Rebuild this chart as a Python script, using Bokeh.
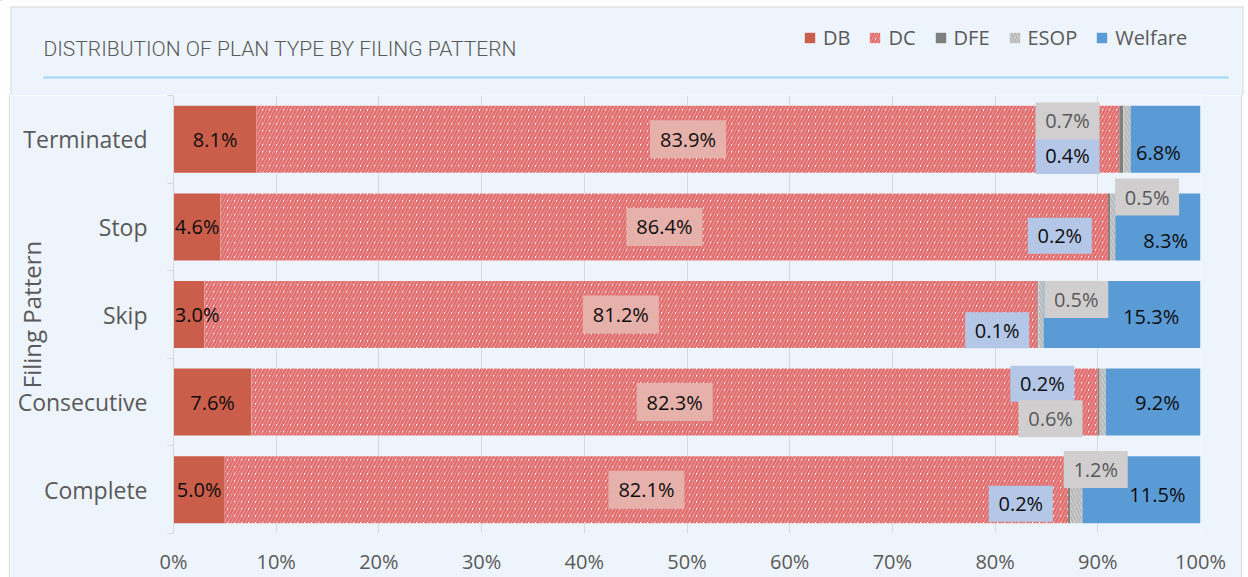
from bokeh.plotting import figure
from bokeh.layouts import column
from bokeh.models import (ColumnDataSource, FixedTicker, Legend, LegendItem, Range1d)
from bokeh.embed import file_html
from bokeh.resources import INLINE
from bokeh.core.properties import value

# ---------------- data ----------------
categories = ["Complete", "Consecutive", "Skip", "Stop", "Terminated"]
db = [5.0, 7.6, 3.0, 4.6, 8.1]
dc = [82.1, 82.3, 81.2, 86.4, 83.9]
dfe = [0.2, 0.2, 0.1, 0.2, 0.4]
esop = [1.2, 0.6, 0.5, 0.5, 0.7]
welfare = [11.5, 9.2, 15.3, 8.3, 6.8]
x_ticks = [0, 10, 20, 30, 40, 50, 60, 70, 80, 90, 100]
series_names = ["DB", "DC", "DFE", "ESOP", "Welfare"]
title_text = "DISTRIBUTION OF PLAN TYPE BY FILING PATTERN"
y_title = "Filing Pattern"

# manual placement of some data labels (x in %, vertical offset in category units)
db_lab_min_x = 2.3
dfe_lab_x = [82.5, 84.6, 80.2, 86.3, 87.05]
dfe_lab_dy = [-0.16, 0.21, -0.18, -0.10, -0.19]
esop_lab_x = [89.8, 85.4, 87.9, 94.8, 87.05]
esop_lab_dy = [0.23, -0.19, 0.17, 0.34, 0.21]
wel_lab_x = [95.8, 95.8, 95.2, 96.6, 95.9]
wel_lab_dy = [-0.05, 0.0, -0.02, -0.15, -0.15]

FONT = "Open Sans"
TITLE_FONT = "Roboto Light, Roboto"
GREY_TXT = "#595959"
BG = "#EEF4FB"
EDGE = "#D9D9D9"
WIDTH = 1248
HEAD_H = 95
MAIN_H = 482
BOX_L, BOX_R, BOX_T = 10, 1243, 6

series = [db, dc, dfe, esop, welfare]
n = len(categories)
ys = list(range(n))
tot = [sum(s[i] for s in series) for i in range(n)]
shares = [[s[i] / tot[i] * 100 for i in range(n)] for s in series]
lefts, rights = [], []
acc = [0.0] * n
for sh in shares:
    r = [acc[i] + sh[i] for i in range(n)]
    lefts.append(acc[:])
    rights.append(r)
    acc = r

styles = [
    dict(fill_color="#CB5E4B"),
    dict(fill_color="white", hatch_pattern="/", hatch_color="#E26F6F", hatch_scale=7, hatch_weight=2.8),
    dict(fill_color="#7F7F7F"),
    dict(fill_color="white", hatch_pattern="\\", hatch_color="#BABABA", hatch_scale=7, hatch_weight=2.8),
    dict(fill_color="#5B9BD5"),
]

# ---------------- header (title + legend) ----------------
head = figure(width=WIDTH, height=HEAD_H, output_backend="svg", toolbar_location=None,
              x_range=Range1d(0, WIDTH), y_range=Range1d(HEAD_H, 0),
              x_axis_location=None, y_axis_location=None,
              min_border_left=0, min_border_right=0, min_border_top=0, min_border_bottom=0)
head.frame_align = False
head.background_fill_color = BG
head.border_fill_color = BG
head.outline_line_color = None
head.grid.grid_line_color = None
# white page outside the chart box, grey box edge
head.quad(left=[-5, -5, BOX_R], right=[BOX_L, WIDTH + 5, WIDTH + 5],
          top=[-5, -5, -5], bottom=[HEAD_H + 5, BOX_T, HEAD_H + 5],
          fill_color="white", line_color=None)
head.segment(x0=[BOX_L + 0.5, BOX_L, BOX_R - 0.5], y0=[BOX_T, BOX_T + 0.5, BOX_T],
             x1=[BOX_L + 0.5, BOX_R, BOX_R - 0.5], y1=[HEAD_H + 5, BOX_T + 0.5, HEAD_H + 5],
             line_color=EDGE, line_width=1)
head.text(x=[43], y=[48], text=[title_text], text_align="left", text_baseline="middle",
          text_font=value(TITLE_FONT), text_font_size="21px", text_color=GREY_TXT)
head.segment(x0=[43], y0=[77], x1=[1228], y1=[77], line_color="#9DD5F2", line_width=2)
dummy = []
for k in range(5):
    dummy.append(head.hbar(y=[-1000], left=[0], right=[1], height=1, line_color=None, **styles[k]))
legend = Legend(items=[LegendItem(label=series_names[k], renderers=[dummy[k]]) for k in range(5)],
                orientation="horizontal", location=(803, 44))
legend.border_line_color = None
legend.background_fill_alpha = 0
legend.padding = 0
legend.margin = 0
legend.spacing = 18
legend.label_standoff = 7
legend.glyph_width = 13
legend.glyph_height = 13
legend.label_text_font = FONT
legend.label_text_font_size = "20px"
legend.label_text_color = GREY_TXT
head.add_layout(legend)

# ---------------- main chart ----------------
p = figure(width=BOX_R - BOX_L, height=MAIN_H, output_backend="svg", toolbar_location=None,
           x_range=Range1d(0, 100), y_range=Range1d(-0.5, n - 0.5),
           min_border_left=173 - BOX_L, min_border_right=BOX_R - 1200,
           min_border_top=0, min_border_bottom=44)
p.frame_align = False
p.styles = {"margin-left": f"{BOX_L - 1}px", "border-left": f"1px solid {EDGE}",
            "border-right": f"1px solid {EDGE}"}
p.background_fill_color = BG
p.border_fill_color = BG
p.outline_line_color = None

bar_h = 0.765
for k in range(5):
    src = ColumnDataSource(dict(y=ys, left=lefts[k], right=rights[k]))
    p.hbar(y="y", left="left", right="right", height=bar_h, source=src,
           line_color=None, **styles[k])

def fmt(v):
    return f"{v:.1f}%"

def labels(xs, yv, vals, color, box=None, bw=64, bh=36):
    if box is not None:
        p.rect(x=xs, y=yv, width=bw, height=bh, width_units="screen", height_units="screen",
               fill_color=box, line_color=None)
    p.text(x=xs, y=yv, text=[fmt(v) for v in vals], text_align="center", text_baseline="middle",
           text_font=value(FONT), text_font_size="20px", text_color=color)

mid = lambda k: [(lefts[k][i] + rights[k][i]) / 2 for i in range(n)]
labels([max(v, db_lab_min_x) for v in mid(0)], ys, db, "#0D0D0D")
labels(mid(1), ys, dc, "#0D0D0D", box="#E6B1AA", bw=76, bh=38)
labels(dfe_lab_x, [ys[i] + dfe_lab_dy[i] for i in range(n)], dfe, "#0D0D0D", box="#B4C7E7", bh=36)
labels(esop_lab_x, [ys[i] + esop_lab_dy[i] for i in range(n)], esop, GREY_TXT, box="#D0CECE", bh=37)
labels(wel_lab_x, [ys[i] + wel_lab_dy[i] for i in range(n)], welfare, "#0D0D0D")

# axes
p.xaxis.ticker = FixedTicker(ticks=x_ticks)
p.xaxis.major_label_overrides = {t: f"{t}%" for t in x_ticks}
p.xaxis.axis_line_color = None
p.xaxis.major_tick_line_color = None
p.xaxis.major_tick_out = 0
p.xaxis.minor_tick_line_color = None
p.xaxis.major_label_text_font = FONT
p.xaxis.major_label_text_font_size = "20px"
p.xaxis.major_label_text_color = GREY_TXT
p.xaxis.major_label_standoff = 14

p.yaxis.ticker = FixedTicker(ticks=ys, minor_ticks=[i - 0.5 for i in range(n + 1)])
p.yaxis.major_label_overrides = {i: c for i, c in enumerate(categories)}
p.yaxis.axis_line_color = EDGE
p.yaxis.major_tick_line_color = None
p.yaxis.major_tick_out = 0
p.yaxis.major_tick_in = 0
p.yaxis.minor_tick_line_color = EDGE
p.yaxis.minor_tick_out = 6
p.yaxis.minor_tick_in = 0
p.yaxis.major_label_text_font = FONT
p.yaxis.major_label_text_font_size = "23px"
p.yaxis.major_label_text_color = GREY_TXT
p.yaxis.major_label_standoff = 20
p.yaxis.axis_label = y_title
p.yaxis.axis_label_text_font = FONT
p.yaxis.axis_label_text_font_size = "24px"
p.yaxis.axis_label_text_font_style = "normal"
p.yaxis.axis_label_text_color = GREY_TXT
p.yaxis.axis_label_standoff = -33

p.xgrid.grid_line_color = EDGE
p.ygrid.grid_line_color = None

layout = column(head, p, spacing=0)
open("out.html", "w").write(file_html(layout, INLINE))
